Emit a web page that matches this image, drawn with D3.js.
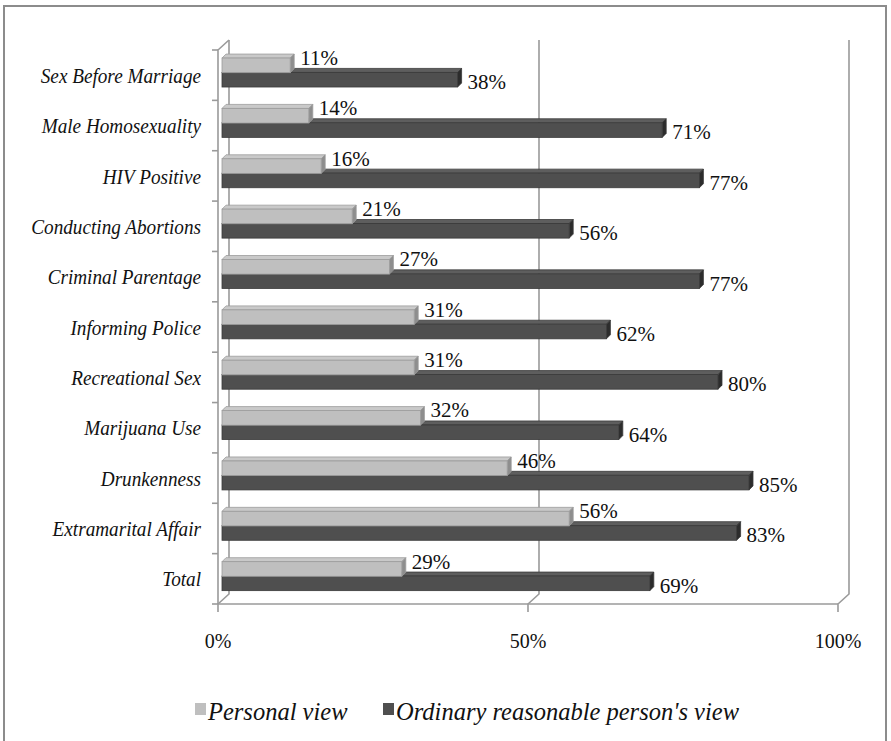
<!DOCTYPE html>
<html lang="en">
<head>
<meta charset="utf-8">
<title>Views chart</title>
<script src="https://d3js.org/d3.v7.min.js"></script>
<style>
    body { margin: 0; background: #fff; }
    svg text { font-family: "Liberation Serif", "Times New Roman", serif; fill: #111; }
    .cat { font-style: italic; font-size: 20px; }
    .val { font-size: 21px; }
    .tick-lab { font-size: 20px; }
    .leg { font-style: italic; font-size: 24.5px; }
    .grid { stroke: #9a9a9a; stroke-width: 1.6; fill: none; }
</style>
</head>
<body>
<div id="chart"></div>
<script>
    // data
    var categories = ["Sex Before Marriage", "Male Homosexuality", "HIV Positive",
        "Conducting Abortions", "Criminal Parentage", "Informing Police",
        "Recreational Sex", "Marijuana Use", "Drunkenness", "Extramarital Affair", "Total"];
    var personalView = [11, 14, 16, 21, 27, 31, 31, 32, 46, 56, 29];
    var ordinaryView = [38, 71, 77, 56, 77, 62, 80, 64, 85, 83, 69];
    var xTicks = [0, 50, 100];
    var seriesNames = ["Personal view", "Ordinary reasonable person's view"];

    var width = 891, height = 741;
    var depth = 11;      // 3d offset of the back wall
    var barDepth = 4;    // 3d offset of the bars

    var svg = d3.select("#chart").append("svg")
        .attr("width", width)
        .attr("height", height);

    // outer frame
    svg.append("rect")
        .attr("x", 4).attr("y", 6)
        .attr("width", 882).attr("height", 760)
        .attr("fill", "#fff")
        .attr("stroke", "#8c8c8c")
        .attr("stroke-width", 2);

    var x = d3.scaleLinear().domain([0, 100]).range([218, 838]);
    var y = d3.scaleBand().domain(categories).range([50, 604]);
    var yTop = y.range()[0], yBot = y.range()[1];

    // back wall gridlines + floor diagonals
    var grid = svg.append("g");
    xTicks.forEach(function(t) {
        grid.append("path").attr("class", "grid")
            .attr("d", "M" + x(t) + "," + (yBot + 8) + "V" + yBot +
                "L" + (x(t) + depth) + "," + (yBot - 10) + "V" + (yTop - 10));
    });
    // floor front line
    grid.append("path").attr("class", "grid")
        .attr("d", "M" + x(0) + "," + yBot + "H" + x(100));
    // left wall: front edge and top diagonal
    grid.append("path").attr("class", "grid")
        .attr("d", "M" + x(0) + "," + yBot + "V" + yTop + "L" + (x(0) + depth) + "," + (yTop - 10));
    // category ticks
    d3.range(categories.length + 1).forEach(function(i) {
        var ty = yTop + i * y.step();
        grid.append("path").attr("class", "grid")
            .attr("d", "M" + (x(0) - 6) + "," + ty + "H" + x(0));
    });

    // bars (dark series first so the light bar sits over its top face)
    var bw = y.bandwidth();
    var series = [
        { values: ordinaryView, top: 0.445, front: "#4f4f4f", topC: "#5e5e5e", side: "#2c2c2c", edge: "#3a3a3a", lab: 0.63 },
        { values: personalView, top: 0.16, front: "#bfbfbf", topC: "#c9c9c9", side: "#8e8e8e", edge: "#9c9c9c", lab: 0.15 }
    ];

    series.forEach(function(s) {
        var g = svg.append("g");
        categories.forEach(function(c, i) {
            var v = s.values[i];
            var x0 = x(0) + barDepth, x1 = x(v) + barDepth;
            var y0 = y(c) + bw * s.top, y1 = y0 + bw * 0.29;
            var d = barDepth;
            g.append("polygon")
                .attr("points", [[x0, y0], [x1, y0], [x1 + d, y0 - d], [x0 + d, y0 - d]].join(" "))
                .attr("fill", s.topC).attr("stroke", s.edge).attr("stroke-width", 0.8);
            g.append("polygon")
                .attr("points", [[x1, y0], [x1 + d, y0 - d], [x1 + d, y1 - d], [x1, y1]].join(" "))
                .attr("fill", s.side).attr("stroke", s.edge).attr("stroke-width", 0.8);
            g.append("rect")
                .attr("x", x0).attr("y", y0)
                .attr("width", x1 - x0).attr("height", y1 - y0)
                .attr("fill", s.front).attr("stroke", s.edge).attr("stroke-width", 0.8);
            g.append("text").attr("class", "val")
                .attr("x", x1 + 10)
                .attr("y", y(c) + bw * s.lab)
                .attr("dy", "0.35em")
                .text(v + "%");
        });
    });

    // category labels
    svg.append("g").selectAll("text")
        .data(categories)
        .join("text")
        .attr("class", "cat")
        .attr("text-anchor", "end")
        .attr("transform", function(d) {
            return "translate(201," + (y(d) + bw / 2 + 1) + ") scale(0.96,1)";
        })
        .attr("dy", "0.33em")
        .text(function(d) { return d; });

    // x tick labels
    svg.append("g").selectAll("text")
        .data(xTicks)
        .join("text")
        .attr("class", "tick-lab")
        .attr("text-anchor", "middle")
        .attr("x", function(d) { return x(d); })
        .attr("y", 641)
        .attr("dy", "0.35em")
        .text(function(d) { return d + "%"; });

    // legend
    var legend = svg.append("g");
    var legX = [195, 383];
    var legColors = ["#bfbfbf", "#4f4f4f"];
    seriesNames.forEach(function(n, i) {
        legend.append("rect")
            .attr("x", legX[i]).attr("y", 703)
            .attr("width", 11).attr("height", 12)
            .attr("fill", legColors[i]);
        legend.append("text").attr("class", "leg")
            .attr("x", legX[i] + 13).attr("y", 711)
            .attr("dy", "0.35em")
            .text(n);
    });
</script>
</body>
</html>
